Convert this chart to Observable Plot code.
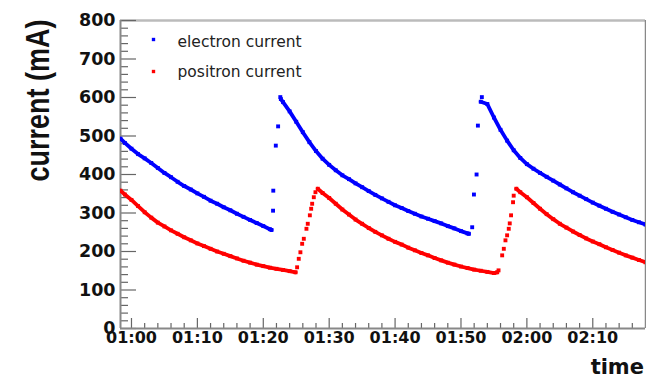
<!DOCTYPE html>
<html><head><meta charset="utf-8">
<script src="https://cdn.jsdelivr.net/npm/d3@7"></script>
<script src="https://cdn.jsdelivr.net/npm/@observablehq/plot@0.6"></script>
<style>
html,body{margin:0;padding:0;background:#fff}
#chart{width:646px;height:378px;overflow:hidden}
#chart svg{overflow:visible}
</style>
</head><body><div id="chart"></div>
<script>
// ---- axis settings ----
const xDomain = ["00:58:20", "02:18:00"];
const xMajorTicks = ["01:00","01:10","01:20","01:30","01:40","01:50","02:00","02:10"];
const yDomain = [0, 800];
const yMajorTicks = [0,100,200,300,400,500,600,700,800];
const legendLabels = ["electron current", "positron current"];
const xTitle = "time";
const yTitle = "current (mA)";

// ---- electron current (blue) ----
const eDecay1 = [["00:58:20",493],["00:59",482],["01:00",467],["01:01",453],["01:02",442],["01:03",430],["01:04",417],["01:05",404],["01:06",393],["01:07",381],["01:08",370],["01:09",361],["01:10",351],["01:11",342],["01:12",332],["01:13",324],["01:14",315],["01:15",307],["01:16",298],["01:17",290],["01:18",282],["01:19",274],["01:20",266],["01:21",258],["01:21:15",256]];
const eInject1 = [["01:21:29",306],["01:21:31",358],["01:21:54",475],["01:22:15",525],["01:22:35",601]];
const eDecay2 = [["01:22:40",596],["01:23",588],["01:24",564],["01:25",537],["01:26",510],["01:27",484],["01:28",461],["01:29",441],["01:30",425],["01:31",411],["01:32",398],["01:33",388],["01:34",377],["01:35",367],["01:36",357],["01:37",347],["01:38",338],["01:39",329],["01:40",320],["01:41",313],["01:42",305],["01:43",298],["01:44",291],["01:45",285],["01:46",279],["01:47",273],["01:48",266],["01:49",260],["01:50",253],["01:51",247],["01:51:12",246]];
const eInject2 = [["01:51:42",263],["01:51:58",348],["01:52:22",400],["01:52:34",527],["01:53:10",601]];
const eDecay3 = [["01:53:00",589],["01:54",583],["01:55",548],["01:56",516],["01:57",488],["01:58",463],["01:59",443],["02:00",427],["02:01",415],["02:02",404],["02:03",394],["02:04",384],["02:05",374],["02:06",364],["02:07",354],["02:08",345],["02:09",336],["02:10",327],["02:11",319],["02:12",311],["02:13",303],["02:14",296],["02:15",289],["02:16",282],["02:17",276],["02:18",270]];

// ---- positron current (red) ----
const pDecay1 = [["00:58:20",358],["00:59",348],["01:00",334],["01:01",318],["01:02",302],["01:03",288],["01:04",275],["01:05",265],["01:06",255],["01:07",246],["01:08",237],["01:09",229],["01:10",221],["01:11",214],["01:12",207],["01:13",200],["01:14",194],["01:15",188],["01:16",182],["01:17",176],["01:18",171],["01:19",166],["01:20",162],["01:21",158],["01:22",155],["01:23",152],["01:24",149],["01:24:54",146]];
const pInject1 = [["01:25:08",159],["01:25:23",181],["01:25:38",198],["01:25:54",220],["01:26:09",233],["01:26:33",259],["01:26:45",272],["01:27:04",294],["01:27:16",311],["01:27:25",324],["01:27:40",341],["01:27:55",354]];
const pDecay2 = [["01:28:16",363],["01:29",352],["01:30",339],["01:31",324],["01:32",309],["01:33",296],["01:34",283],["01:35",272],["01:36",261],["01:37",251],["01:38",242],["01:39",233],["01:40",225],["01:41",218],["01:42",210],["01:43",203],["01:44",196],["01:45",190],["01:46",183],["01:47",177],["01:48",171],["01:49",166],["01:50",161],["01:51",157],["01:52",153],["01:53",150],["01:54",147],["01:55",144],["01:55:30",146]];
const pInject2 = [["01:55:42",151],["01:56:15",190],["01:56:30",207],["01:56:45",229],["01:57:00",242],["01:57:15",259],["01:57:24",273],["01:57:36",294],["01:57:54",328],["01:58:00",345]];
const pDecay3 = [["01:58:24",363],["01:59",354],["02:00",341],["02:01",326],["02:02",311],["02:03",297],["02:04",284],["02:05",272],["02:06",262],["02:07",252],["02:08",243],["02:09",234],["02:10",226],["02:11",219],["02:12",211],["02:13",204],["02:14",197],["02:15",190],["02:16",184],["02:17",178],["02:18",172]];

// ---- build tables ----
const T = s => { const [h, m, sec = "0"] = s.split(":"); return new Date(Date.UTC(2000, 0, 1, +h, +m, +sec)); };
const rows = (arr, series, id) => arr.map(([t, v]) => ({time: T(t), value: v, series, id}));
const E = legendLabels[0], P = legendLabels[1];
const decays = [
  ...rows(eDecay1, E, "e1"), ...rows(eDecay2, E, "e2"), ...rows(eDecay3, E, "e3"),
  ...rows(pDecay1, P, "p1"), ...rows(pDecay2, P, "p2"), ...rows(pDecay3, P, "p3")
];
const injections = [
  ...rows(eInject1, E, "ei1"), ...rows(eInject2, E, "ei2"),
  ...rows(pInject1, P, "pi1"), ...rows(pInject2, P, "pi2")
];
const xStart = T(xDomain[0]), xEnd = T(xDomain[1]);
const majorX = xMajorTicks.map(T);
const majorSet = new Set(majorX.map(d => +d));
const minorX = d3.utcMinute.every(2).range(xStart, xEnd).filter(d => !majorSet.has(+d));
const minorY = d3.range(yDomain[0], yDomain[1], 20).filter(v => v % 100 !== 0);

const tickColor = "#666";
const chart = Plot.plot({
  width: 646, height: 378,
  marginTop: 20, marginBottom: 50, marginLeft: 120, marginRight: 1,
  style: {fontFamily: "DejaVu Sans", background: "white", overflow: "visible"},
  x: {type: "utc", domain: [xStart, xEnd], label: null},
  y: {domain: yDomain, label: null},
  color: {domain: legendLabels, range: ["#0000ff", "#ff0000"]},
  marks: [
    // frame
    Plot.ruleY([yDomain[1]], {stroke: "#bbb", strokeWidth: 2.5}),
    Plot.ruleX([xEnd], {stroke: "#888", strokeWidth: 1.5}),
    // ticks (inside)
    Plot.axisY({ticks: minorY, tickSize: -8, tickFormat: () => "", stroke: tickColor, strokeWidth: 1.2, label: null}),
    Plot.axisY({ticks: yMajorTicks, tickSize: -16, tickFormat: () => "", stroke: tickColor, strokeWidth: 1.2, label: null}),
    Plot.axisX({ticks: minorX, tickSize: -5, tickFormat: () => "", stroke: tickColor, strokeWidth: 1.2, label: null}),
    Plot.axisX({ticks: majorX, tickSize: -10, tickFormat: () => "", stroke: tickColor, strokeWidth: 1.2, label: null}),
    // labels
    Plot.axisY({ticks: yMajorTicks, tickSize: 0, tickPadding: 5, fontSize: 17.5, fontWeight: "bold", fill: "#111", label: null}),
    Plot.axisX({ticks: majorX, tickSize: 0, tickPadding: 3.5, tickFormat: d3.utcFormat("%H:%M"), fontSize: 16, fontWeight: "bold", fill: "#111", label: null}),
    // axis lines
    Plot.ruleX([xStart], {stroke: "#888", strokeWidth: 2}),
    Plot.ruleY([yDomain[0]], {stroke: "#888", strokeWidth: 2}),
    // data
    Plot.line(decays, {x: "time", y: "value", z: "id", stroke: "series", strokeWidth: 3.8, clip: true}),
    Plot.dot(decays, {x: "time", y: "value", fill: "series", symbol: "square", r: 2.2, clip: true}),
    Plot.dot(injections, {x: "time", y: "value", fill: "series", symbol: "square", r: 2.2, clip: true}),
    // legend
    ...legendLabels.map((label, i) => Plot.dot([label], {frameAnchor: "top-left", dx: 33, dy: 19 + i * 32, fill: d => d, symbol: "square", r: 1.9})),
    ...legendLabels.map((label, i) => Plot.text([label], {frameAnchor: "top-left", dx: 57, dy: 26 + i * 30.7, text: d => d, textAnchor: "start", lineAnchor: "bottom", fontSize: 15.5, fill: "#222"})),
    // titles
    Plot.text([xTitle], {frameAnchor: "bottom-right", dx: -1.5, dy: 45, text: d => d, textAnchor: "end", lineAnchor: "bottom", fontSize: 21, fontWeight: "bold", fill: "#111"}),
    Plot.text([yTitle], {frameAnchor: "left", dx: -71.5, dy: -74, rotate: -90, text: d => d, textAnchor: "middle", lineAnchor: "bottom", fontSize: 27, fontWeight: "bold", fontFamily: "Liberation Sans", fill: "#111"})
  ]
});
document.getElementById("chart").append(chart);
// stretch the rotated y title in thickness like the reference
d3.select(chart).selectAll("text").each(function() {
  if (this.textContent === yTitle) {
    const tr = this.getAttribute("transform") || "";
    this.setAttribute("transform", tr + " scale(1,1.2)");
  }
});
</script>
</body></html>
